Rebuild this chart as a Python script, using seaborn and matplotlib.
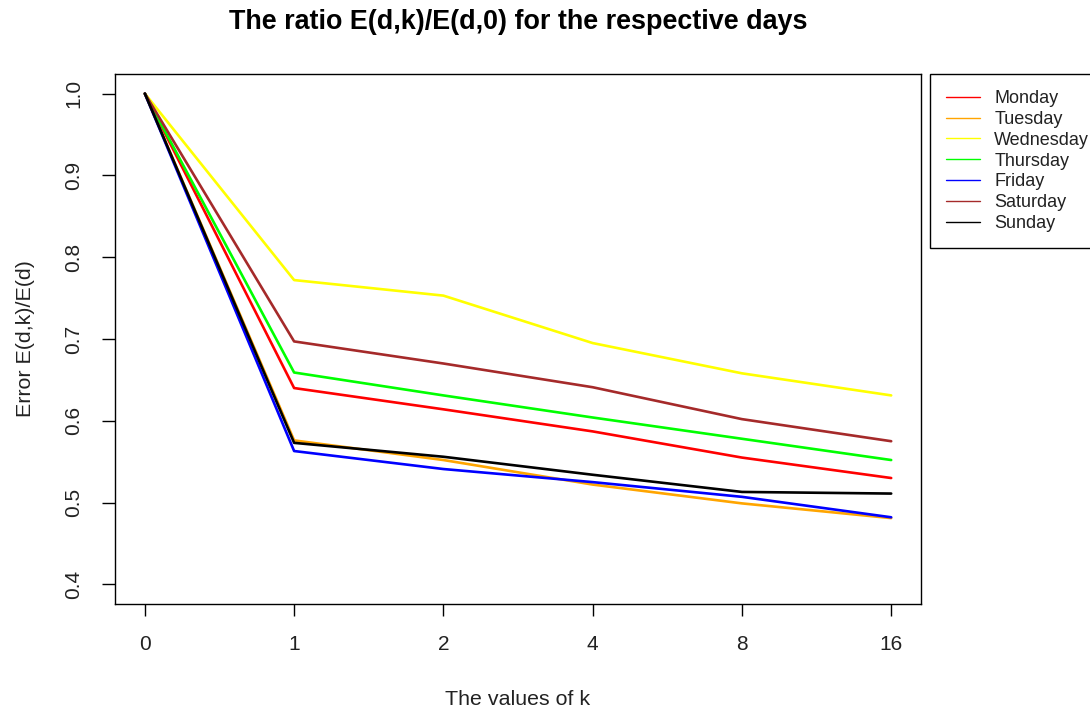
import numpy as np
import pandas as pd
import matplotlib
matplotlib.use("Agg")
import matplotlib.pyplot as plt
import seaborn as sns

k_labels = ["0", "1", "2", "4", "8", "16"]
days = ["Monday", "Tuesday", "Wednesday", "Thursday", "Friday", "Saturday", "Sunday"]

monday    = [1.0, 0.640, 0.614, 0.587, 0.555, 0.530]
tuesday   = [1.0, 0.576, 0.552, 0.522, 0.499, 0.481]
wednesday = [1.0, 0.772, 0.753, 0.695, 0.658, 0.631]
thursday  = [1.0, 0.659, 0.631, 0.604, 0.578, 0.552]
friday    = [1.0, 0.563, 0.541, 0.525, 0.507, 0.482]
saturday  = [1.0, 0.697, 0.670, 0.641, 0.602, 0.575]
sunday    = [1.0, 0.573, 0.556, 0.534, 0.513, 0.511]

colors = ["red", "orange", "yellow", "#00FF00", "blue", "brown", "black"]

series = [monday, tuesday, wednesday, thursday, friday, saturday, sunday]
x_idx = np.arange(len(k_labels))
df = pd.DataFrame({
    "k": np.tile(x_idx, len(days)),
    "ratio": np.concatenate(series),
    "day": np.repeat(days, len(k_labels)),
})

sns.set_theme(style="white")
plt.rcParams["font.family"] = ["Liberation Sans", "DejaVu Sans"]

fig = plt.figure(figsize=(10.9, 7.11), dpi=100)
ax = fig.add_subplot(111)
fig.subplots_adjust(left=0.1055, right=0.845, top=0.896, bottom=0.1505)

sns.lineplot(data=df, x="k", y="ratio", hue="day", hue_order=days,
             palette=dict(zip(days, colors)), estimator=None, sort=False,
             linewidth=1.9, ax=ax)

ax.set_xlim(-0.2, 5.2)
ax.set_ylim(0.376, 1.024)
ax.set_xticks(x_idx)
ax.set_xticklabels(k_labels)
ax.set_yticks([0.4, 0.5, 0.6, 0.7, 0.8, 0.9, 1.0])
ax.set_yticklabels(["0.4", "0.5", "0.6", "0.7", "0.8", "0.9", "1.0"],
                   rotation=90, va="center")

for s in ax.spines.values():
    s.set_visible(True)
    s.set_color("black")
    s.set_linewidth(1.0)

ax.tick_params(axis="x", direction="out", length=8.6, width=1, color="black",
               labelsize=15, pad=14, bottom=True)
ax.tick_params(axis="y", direction="out", length=9.5, width=1, color="black",
               labelsize=15, pad=13.5, left=True)
for lbl in ax.get_xticklabels() + ax.get_yticklabels():
    lbl.set_color("#222222")

ax.set_xlabel("The values of k", fontsize=15.4, color="#222222")
ax.set_ylabel("Error E(d,k)/E(d)", fontsize=15.4, color="#222222")
ax.xaxis.set_label_coords(0.5, -0.163)
ax.yaxis.set_label_coords(-0.099, 0.5)
ax.set_title("The ratio E(d,k)/E(d,0) for the respective days",
             fontsize=19.4, fontweight="bold", pad=32, color="black")

handles, labels = ax.get_legend_handles_labels()
leg = ax.legend(handles, labels, loc="upper left", bbox_to_anchor=(1.0112, 1.0),
                borderaxespad=0, fontsize=13, frameon=True, fancybox=False,
                edgecolor="black", framealpha=1, labelspacing=0.21,
                borderpad=0.9, handlelength=1.85, handletextpad=0.8)
leg.get_frame().set_linewidth(1.0)
for h in leg.get_lines():
    h.set_linewidth(1.0)
for t in leg.get_texts():
    t.set_color("#222222")

fig.savefig("out.png", dpi=100)
